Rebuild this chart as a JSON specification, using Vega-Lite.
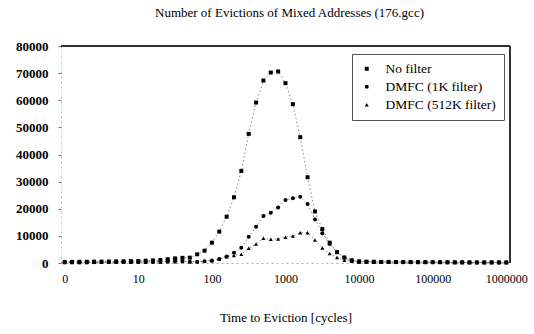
{
  "$schema": "https://vega.github.io/schema/vega-lite/v6.json",
  "width": 449,
  "height": 217,
  "autosize": {"type": "none"},
  "padding": {"left": 61, "top": 46, "right": 24, "bottom": 71},
  "background": "white",
  "config": {
    "view": {"stroke": null},
    "font": "Liberation Serif, Times New Roman, serif",
    "axis": {"labelFont": "Liberation Serif, Times New Roman, serif", "titleFont": "Liberation Serif, Times New Roman, serif", "labelColor": "black", "titleColor": "black", "grid": false},
    "legend": {"labelFont": "Liberation Serif, Times New Roman, serif", "titleFont": "Liberation Serif, Times New Roman, serif"}
  },
  "title": {
    "text": "Number of Evictions of Mixed Addresses (176.gcc)",
    "font": "Liberation Serif, Times New Roman, serif",
    "fontSize": 13,
    "fontWeight": "normal",
    "color": "black",
    "anchor": "middle",
    "offset": 20,
    "dx": 4
  },
  "data": {
    "values": [
      {"i": 0, "s": "No filter", "v": 400}, {"i": 0, "s": "DMFC (1K filter)", "v": 300}, {"i": 0, "s": "DMFC (512K filter)", "v": 200},
      {"i": 1, "s": "No filter", "v": 400}, {"i": 1, "s": "DMFC (1K filter)", "v": 300}, {"i": 1, "s": "DMFC (512K filter)", "v": 200},
      {"i": 2, "s": "No filter", "v": 450}, {"i": 2, "s": "DMFC (1K filter)", "v": 300}, {"i": 2, "s": "DMFC (512K filter)", "v": 200},
      {"i": 3, "s": "No filter", "v": 450}, {"i": 3, "s": "DMFC (1K filter)", "v": 300}, {"i": 3, "s": "DMFC (512K filter)", "v": 200},
      {"i": 4, "s": "No filter", "v": 500}, {"i": 4, "s": "DMFC (1K filter)", "v": 300}, {"i": 4, "s": "DMFC (512K filter)", "v": 250},
      {"i": 5, "s": "No filter", "v": 500}, {"i": 5, "s": "DMFC (1K filter)", "v": 350}, {"i": 5, "s": "DMFC (512K filter)", "v": 250},
      {"i": 6, "s": "No filter", "v": 550}, {"i": 6, "s": "DMFC (1K filter)", "v": 350}, {"i": 6, "s": "DMFC (512K filter)", "v": 250},
      {"i": 7, "s": "No filter", "v": 600}, {"i": 7, "s": "DMFC (1K filter)", "v": 350}, {"i": 7, "s": "DMFC (512K filter)", "v": 250},
      {"i": 8, "s": "No filter", "v": 650}, {"i": 8, "s": "DMFC (1K filter)", "v": 400}, {"i": 8, "s": "DMFC (512K filter)", "v": 300},
      {"i": 9, "s": "No filter", "v": 700}, {"i": 9, "s": "DMFC (1K filter)", "v": 400}, {"i": 9, "s": "DMFC (512K filter)", "v": 300},
      {"i": 10, "s": "No filter", "v": 750}, {"i": 10, "s": "DMFC (1K filter)", "v": 400}, {"i": 10, "s": "DMFC (512K filter)", "v": 300},
      {"i": 11, "s": "No filter", "v": 850}, {"i": 11, "s": "DMFC (1K filter)", "v": 450}, {"i": 11, "s": "DMFC (512K filter)", "v": 300},
      {"i": 12, "s": "No filter", "v": 950}, {"i": 12, "s": "DMFC (1K filter)", "v": 450}, {"i": 12, "s": "DMFC (512K filter)", "v": 350},
      {"i": 13, "s": "No filter", "v": 1100}, {"i": 13, "s": "DMFC (1K filter)", "v": 500}, {"i": 13, "s": "DMFC (512K filter)", "v": 400},
      {"i": 14, "s": "No filter", "v": 1400}, {"i": 14, "s": "DMFC (1K filter)", "v": 600}, {"i": 14, "s": "DMFC (512K filter)", "v": 450},
      {"i": 15, "s": "No filter", "v": 1700}, {"i": 15, "s": "DMFC (1K filter)", "v": 700}, {"i": 15, "s": "DMFC (512K filter)", "v": 500},
      {"i": 16, "s": "No filter", "v": 1900}, {"i": 16, "s": "DMFC (1K filter)", "v": 700}, {"i": 16, "s": "DMFC (512K filter)", "v": 550},
      {"i": 17, "s": "No filter", "v": 1960}, {"i": 17, "s": "DMFC (1K filter)", "v": 500}, {"i": 17, "s": "DMFC (512K filter)", "v": 500},
      {"i": 18, "s": "No filter", "v": 3200}, {"i": 18, "s": "DMFC (1K filter)", "v": 500}, {"i": 18, "s": "DMFC (512K filter)", "v": 500},
      {"i": 19, "s": "No filter", "v": 4540}, {"i": 19, "s": "DMFC (1K filter)", "v": 600}, {"i": 19, "s": "DMFC (512K filter)", "v": 600},
      {"i": 20, "s": "No filter", "v": 7490}, {"i": 20, "s": "DMFC (1K filter)", "v": 900}, {"i": 20, "s": "DMFC (512K filter)", "v": 800},
      {"i": 21, "s": "No filter", "v": 11550}, {"i": 21, "s": "DMFC (1K filter)", "v": 1500}, {"i": 21, "s": "DMFC (512K filter)", "v": 1500},
      {"i": 22, "s": "No filter", "v": 17080}, {"i": 22, "s": "DMFC (1K filter)", "v": 2400}, {"i": 22, "s": "DMFC (512K filter)", "v": 2300},
      {"i": 23, "s": "No filter", "v": 24240}, {"i": 23, "s": "DMFC (1K filter)", "v": 3800}, {"i": 23, "s": "DMFC (512K filter)", "v": 2800},
      {"i": 24, "s": "No filter", "v": 33950}, {"i": 24, "s": "DMFC (1K filter)", "v": 5650}, {"i": 24, "s": "DMFC (512K filter)", "v": 3210},
      {"i": 25, "s": "No filter", "v": 47600}, {"i": 25, "s": "DMFC (1K filter)", "v": 9700}, {"i": 25, "s": "DMFC (512K filter)", "v": 5420},
      {"i": 26, "s": "No filter", "v": 59150}, {"i": 26, "s": "DMFC (1K filter)", "v": 13400}, {"i": 26, "s": "DMFC (512K filter)", "v": 7010},
      {"i": 27, "s": "No filter", "v": 67270}, {"i": 27, "s": "DMFC (1K filter)", "v": 17340}, {"i": 27, "s": "DMFC (512K filter)", "v": 9110},
      {"i": 28, "s": "No filter", "v": 70220}, {"i": 28, "s": "DMFC (1K filter)", "v": 18560}, {"i": 28, "s": "DMFC (512K filter)", "v": 8750},
      {"i": 29, "s": "No filter", "v": 70600}, {"i": 29, "s": "DMFC (1K filter)", "v": 20500}, {"i": 29, "s": "DMFC (512K filter)", "v": 8860},
      {"i": 30, "s": "No filter", "v": 66300}, {"i": 30, "s": "DMFC (1K filter)", "v": 23250}, {"i": 30, "s": "DMFC (512K filter)", "v": 9480},
      {"i": 31, "s": "No filter", "v": 58560}, {"i": 31, "s": "DMFC (1K filter)", "v": 23870}, {"i": 31, "s": "DMFC (512K filter)", "v": 9960},
      {"i": 32, "s": "No filter", "v": 46380}, {"i": 32, "s": "DMFC (1K filter)", "v": 24470}, {"i": 32, "s": "DMFC (512K filter)", "v": 11180},
      {"i": 33, "s": "No filter", "v": 31620}, {"i": 33, "s": "DMFC (1K filter)", "v": 21770}, {"i": 33, "s": "DMFC (512K filter)", "v": 11180},
      {"i": 34, "s": "No filter", "v": 19000}, {"i": 34, "s": "DMFC (1K filter)", "v": 16000}, {"i": 34, "s": "DMFC (512K filter)", "v": 8500},
      {"i": 35, "s": "No filter", "v": 12500}, {"i": 35, "s": "DMFC (1K filter)", "v": 11000}, {"i": 35, "s": "DMFC (512K filter)", "v": 5500},
      {"i": 36, "s": "No filter", "v": 7500}, {"i": 36, "s": "DMFC (1K filter)", "v": 7000}, {"i": 36, "s": "DMFC (512K filter)", "v": 3500},
      {"i": 37, "s": "No filter", "v": 4000}, {"i": 37, "s": "DMFC (1K filter)", "v": 4000}, {"i": 37, "s": "DMFC (512K filter)", "v": 2000},
      {"i": 38, "s": "No filter", "v": 2000}, {"i": 38, "s": "DMFC (1K filter)", "v": 2000}, {"i": 38, "s": "DMFC (512K filter)", "v": 1000},
      {"i": 39, "s": "No filter", "v": 1000}, {"i": 39, "s": "DMFC (1K filter)", "v": 900}, {"i": 39, "s": "DMFC (512K filter)", "v": 600},
      {"i": 40, "s": "No filter", "v": 600}, {"i": 40, "s": "DMFC (1K filter)", "v": 500}, {"i": 40, "s": "DMFC (512K filter)", "v": 400},
      {"i": 41, "s": "No filter", "v": 500}, {"i": 41, "s": "DMFC (1K filter)", "v": 450}, {"i": 41, "s": "DMFC (512K filter)", "v": 400},
      {"i": 42, "s": "No filter", "v": 450}, {"i": 42, "s": "DMFC (1K filter)", "v": 400}, {"i": 42, "s": "DMFC (512K filter)", "v": 350},
      {"i": 43, "s": "No filter", "v": 400}, {"i": 43, "s": "DMFC (1K filter)", "v": 400}, {"i": 43, "s": "DMFC (512K filter)", "v": 350},
      {"i": 44, "s": "No filter", "v": 400}, {"i": 44, "s": "DMFC (1K filter)", "v": 350}, {"i": 44, "s": "DMFC (512K filter)", "v": 300},
      {"i": 45, "s": "No filter", "v": 350}, {"i": 45, "s": "DMFC (1K filter)", "v": 350}, {"i": 45, "s": "DMFC (512K filter)", "v": 300},
      {"i": 46, "s": "No filter", "v": 350}, {"i": 46, "s": "DMFC (1K filter)", "v": 300}, {"i": 46, "s": "DMFC (512K filter)", "v": 300},
      {"i": 47, "s": "No filter", "v": 350}, {"i": 47, "s": "DMFC (1K filter)", "v": 300}, {"i": 47, "s": "DMFC (512K filter)", "v": 250},
      {"i": 48, "s": "No filter", "v": 300}, {"i": 48, "s": "DMFC (1K filter)", "v": 300}, {"i": 48, "s": "DMFC (512K filter)", "v": 250},
      {"i": 49, "s": "No filter", "v": 300}, {"i": 49, "s": "DMFC (1K filter)", "v": 300}, {"i": 49, "s": "DMFC (512K filter)", "v": 250},
      {"i": 50, "s": "No filter", "v": 300}, {"i": 50, "s": "DMFC (1K filter)", "v": 250}, {"i": 50, "s": "DMFC (512K filter)", "v": 250},
      {"i": 51, "s": "No filter", "v": 300}, {"i": 51, "s": "DMFC (1K filter)", "v": 250}, {"i": 51, "s": "DMFC (512K filter)", "v": 250},
      {"i": 52, "s": "No filter", "v": 300}, {"i": 52, "s": "DMFC (1K filter)", "v": 250}, {"i": 52, "s": "DMFC (512K filter)", "v": 200},
      {"i": 53, "s": "No filter", "v": 250}, {"i": 53, "s": "DMFC (1K filter)", "v": 250}, {"i": 53, "s": "DMFC (512K filter)", "v": 200},
      {"i": 54, "s": "No filter", "v": 250}, {"i": 54, "s": "DMFC (1K filter)", "v": 250}, {"i": 54, "s": "DMFC (512K filter)", "v": 200},
      {"i": 55, "s": "No filter", "v": 250}, {"i": 55, "s": "DMFC (1K filter)", "v": 200}, {"i": 55, "s": "DMFC (512K filter)", "v": 200},
      {"i": 56, "s": "No filter", "v": 250}, {"i": 56, "s": "DMFC (1K filter)", "v": 200}, {"i": 56, "s": "DMFC (512K filter)", "v": 200},
      {"i": 57, "s": "No filter", "v": 250}, {"i": 57, "s": "DMFC (1K filter)", "v": 200}, {"i": 57, "s": "DMFC (512K filter)", "v": 200},
      {"i": 58, "s": "No filter", "v": 250}, {"i": 58, "s": "DMFC (1K filter)", "v": 200}, {"i": 58, "s": "DMFC (512K filter)", "v": 200},
      {"i": 59, "s": "No filter", "v": 250}, {"i": 59, "s": "DMFC (1K filter)", "v": 200}, {"i": 59, "s": "DMFC (512K filter)", "v": 200},
      {"i": 60, "s": "No filter", "v": 250}, {"i": 60, "s": "DMFC (1K filter)", "v": 200}, {"i": 60, "s": "DMFC (512K filter)", "v": 200}
    ]
  },
  "encoding": {
    "x": {
      "field": "i",
      "type": "quantitative",
      "scale": {"domain": [-0.5, 60.5], "nice": false, "zero": false},
      "axis": {
        "title": "Time to Eviction [cycles]",
        "titleFontSize": 13,
        "titleFontWeight": "normal",
        "titlePadding": 27,
        "values": [0, 10, 20, 30, 40, 50, 60],
        "labelExpr": "datum.value == 0 ? '0' : format(pow(10, datum.value / 10), 'd')",
        "labelFontSize": 12,
        "labelPadding": 10,
        "ticks": false,
        "domainColor": "#999",
        "domainDash": [2, 3],
        "domainWidth": 0.8
      }
    },
    "y": {
      "field": "v",
      "type": "quantitative",
      "scale": {"domain": [0, 80000], "nice": false},
      "axis": {
        "title": null,
        "format": "d",
        "values": [0, 10000, 20000, 30000, 40000, 50000, 60000, 70000, 80000],
        "labelFontSize": 13,
        "labelFontWeight": "bold",
        "labelPadding": 10,
        "tickSize": 3,
        "tickColor": "#777",
        "domainColor": "#aaa",
        "domainDash": [2, 3],
        "domainWidth": 0.8
      }
    }
  },
  "layer": [
    {
      "mark": {"type": "rule", "color": "#333", "strokeWidth": 1.2},
      "encoding": {"y": {"datum": 80000}, "x": null}
    },
    {
      "mark": {"type": "rule", "color": "#333", "strokeWidth": 1.2},
      "encoding": {"x": {"datum": 60.5}, "y": {"datum": 0}, "y2": {"datum": 80000}}
    },
    {
      "mark": {"type": "line", "color": "#666", "strokeWidth": 0.8, "strokeDash": [1.5, 2.5]},
      "encoding": {"detail": {"field": "s"}}
    },
    {
      "mark": {"type": "point", "filled": true, "color": "black", "opacity": 1, "size": 16},
      "encoding": {
        "shape": {
          "field": "s",
          "type": "nominal",
          "scale": {
            "domain": ["No filter", "DMFC (1K filter)", "DMFC (512K filter)"],
            "range": ["square", "circle", "triangle-up"]
          },
          "legend": {
            "title": null,
            "orient": "none",
            "legendX": 291,
            "legendY": 8,
            "labelFont": "Liberation Serif, Times New Roman, serif",
            "labelFontSize": 13.5,
            "labelColor": "black",
            "labelOffset": 12,
            "symbolFillColor": "black",
            "symbolStrokeColor": "black",
            "symbolSize": 16,
            "rowPadding": 3,
            "padding": 8,
            "strokeColor": "#555",
            "labelLimit": 200
          }
        }
      }
    }
  ]
}
